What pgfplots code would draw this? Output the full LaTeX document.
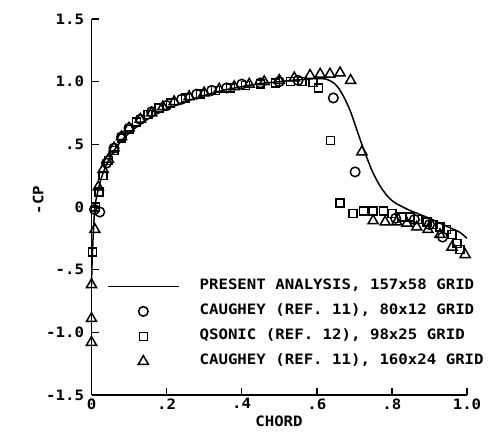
\documentclass[border=0pt]{standalone}
\usepackage{fontspec}
\setmainfont{DejaVu Sans Mono}[FakeStretch=1.1,UprightFont=* Bold]
\usepackage{pgfplots}
\pgfplotsset{compat=1.18}
\newcommand\plotfont{\fontsize{14.3bp}{16bp}\selectfont}
\pgfplotsset{
  markleg/.style={legend image code/.code={\draw[##1] plot coordinates {(35.5bp,0bp)};}},
  lineleg/.style={legend image code/.code={\draw[black,line width=1.5bp] (0bp,0bp) -- (71bp,0bp);}},
}
\begin{document}
\begin{tikzpicture}
\useasboundingbox (-91.5bp,-50bp) rectangle (406.5bp,395bp);
\begin{axis}[
  scale only axis, width=375.5bp, height=376bp,
  at={(0,0)}, anchor=south west,
  xmin=0, xmax=1, ymin=-1.5, ymax=1.5,
  clip=false,
  axis x line*=bottom, axis y line*=left,
  axis line style={line width=1.5bp,-},
  tick align=inside, major tick length=7bp,
  tick style={line width=1.4bp,black},
  xtick={0,0.2,0.4,0.6,0.8,1.0},
  xticklabels={0,.2,.4,.6,.8,1.0},
  ytick={-1.5,-1,-0.5,0,0.5,1,1.5},
  yticklabels={-1.5,-1.0,-.5,0,.5,1.0,1.5},
  /pgf/number format/assume math mode=true,
  tick label style={font=\plotfont},
  yticklabel style={xshift=-4bp},
  xlabel={CHORD}, ylabel={-CP},
  label style={font=\plotfont},
  xlabel style={at={(axis description cs:0.4993,0)}, anchor=north, yshift=-17bp},
  ylabel style={at={(axis description cs:-0.142,0.519)}, anchor=center},
  legend style={font=\plotfont, draw=none, fill=none, inner sep=0pt,
    at={(axis cs:0.041,-0.58)}, anchor=north west,
    column sep=20bp, row sep=12bp,
    nodes={inner sep=0pt, text height=10bp, text depth=3bp, anchor=west}},
  legend cell align=left,
]
\addplot[black, line width=1.5bp, smooth, tension=0.4, lineleg]
coordinates {
(0,-0.62)(0.002,-0.4)(0.005,-0.2)(0.009,0.0)(0.015,0.1)(0.025,0.22)(0.04,0.34)
(0.06,0.45)(0.08,0.53)(0.1,0.59)(0.13,0.66)(0.16,0.72)(0.2,0.78)(0.25,0.84)
(0.3,0.89)(0.35,0.93)(0.4,0.96)(0.45,0.985)(0.5,1.0)(0.55,1.015)(0.6,1.025)
(0.625,1.02)(0.645,0.99)(0.66,0.94)(0.675,0.86)(0.69,0.76)(0.705,0.63)(0.72,0.5)
(0.735,0.38)(0.75,0.27)(0.77,0.16)(0.79,0.08)(0.81,0.03)(0.85,-0.03)(0.9,-0.09)
(0.95,-0.16)(0.98,-0.2)(1.0,-0.25)
};
\addlegendentry{PRESENT ANALYSIS, 157x58 GRID}
\addplot[only marks, mark=o, mark size=4.8bp, mark options={black,line width=1.5bp}, markleg]
coordinates {
(0.008,-0.02)(0.022,-0.04)(0.04,0.35)(0.06,0.47)(0.08,0.56)(0.1,0.63)(0.13,0.7)
(0.16,0.76)(0.2,0.81)(0.24,0.86)(0.28,0.9)(0.32,0.93)(0.36,0.95)(0.4,0.98)
(0.45,0.99)(0.5,1.0)(0.55,1.01)(0.644,0.87)(0.702,0.28)
(0.81,-0.09)(0.86,-0.1)(0.9,-0.14)(0.935,-0.24)
};
\addlegendentry{CAUGHEY (REF. 11), 80x12 GRID}
\addplot[only marks, mark=square, mark size=4bp, mark options={black,line width=1.5bp}, markleg]
coordinates {
(0.002,-0.36)(0.01,0.0)(0.02,0.12)(0.03,0.25)(0.045,0.37)(0.06,0.45)(0.08,0.55)
(0.1,0.62)(0.12,0.68)(0.15,0.74)(0.18,0.79)(0.21,0.83)(0.25,0.87)(0.29,0.9)
(0.33,0.93)(0.37,0.95)(0.41,0.97)(0.45,0.98)(0.49,0.99)(0.53,1.0)(0.56,1.0)
(0.59,0.995)(0.604,0.95)(0.637,0.53)(0.662,0.03)(0.696,-0.05)(0.724,-0.03)
(0.75,-0.03)(0.777,-0.03)(0.8,-0.05)(0.826,-0.08)(0.848,-0.08)(0.87,-0.1)
(0.893,-0.12)(0.91,-0.14)(0.928,-0.16)(0.946,-0.18)(0.96,-0.22)(0.973,-0.29)(0.981,-0.34)
};
\addlegendentry{QSONIC (REF. 12), 98x25 GRID}
\addplot[only marks, mark=triangle, mark size=5.8bp, mark options={black,line width=1.5bp}, markleg]
coordinates {
(0,-0.62)(0,-0.89)(0,-1.08)(0.009,-0.18)(0.018,0.16)(0.031,0.3)(0.045,0.38)
(0.06,0.47)(0.08,0.56)(0.1,0.63)(0.13,0.7)(0.16,0.75)(0.19,0.8)(0.22,0.84)
(0.26,0.88)(0.3,0.91)(0.34,0.94)(0.38,0.96)(0.42,0.98)(0.46,1.0)(0.5,1.01)
(0.54,1.03)(0.582,1.05)(0.609,1.06)(0.635,1.06)(0.662,1.07)(0.69,1.01)(0.72,0.44)
(0.75,-0.11)(0.782,-0.12)(0.813,-0.12)(0.84,-0.13)(0.866,-0.16)(0.896,-0.18)
(0.928,-0.22)(0.96,-0.32)(0.995,-0.38)
};
\addlegendentry{CAUGHEY (REF. 11), 160x24 GRID}
\end{axis}
\end{tikzpicture}
\end{document}
